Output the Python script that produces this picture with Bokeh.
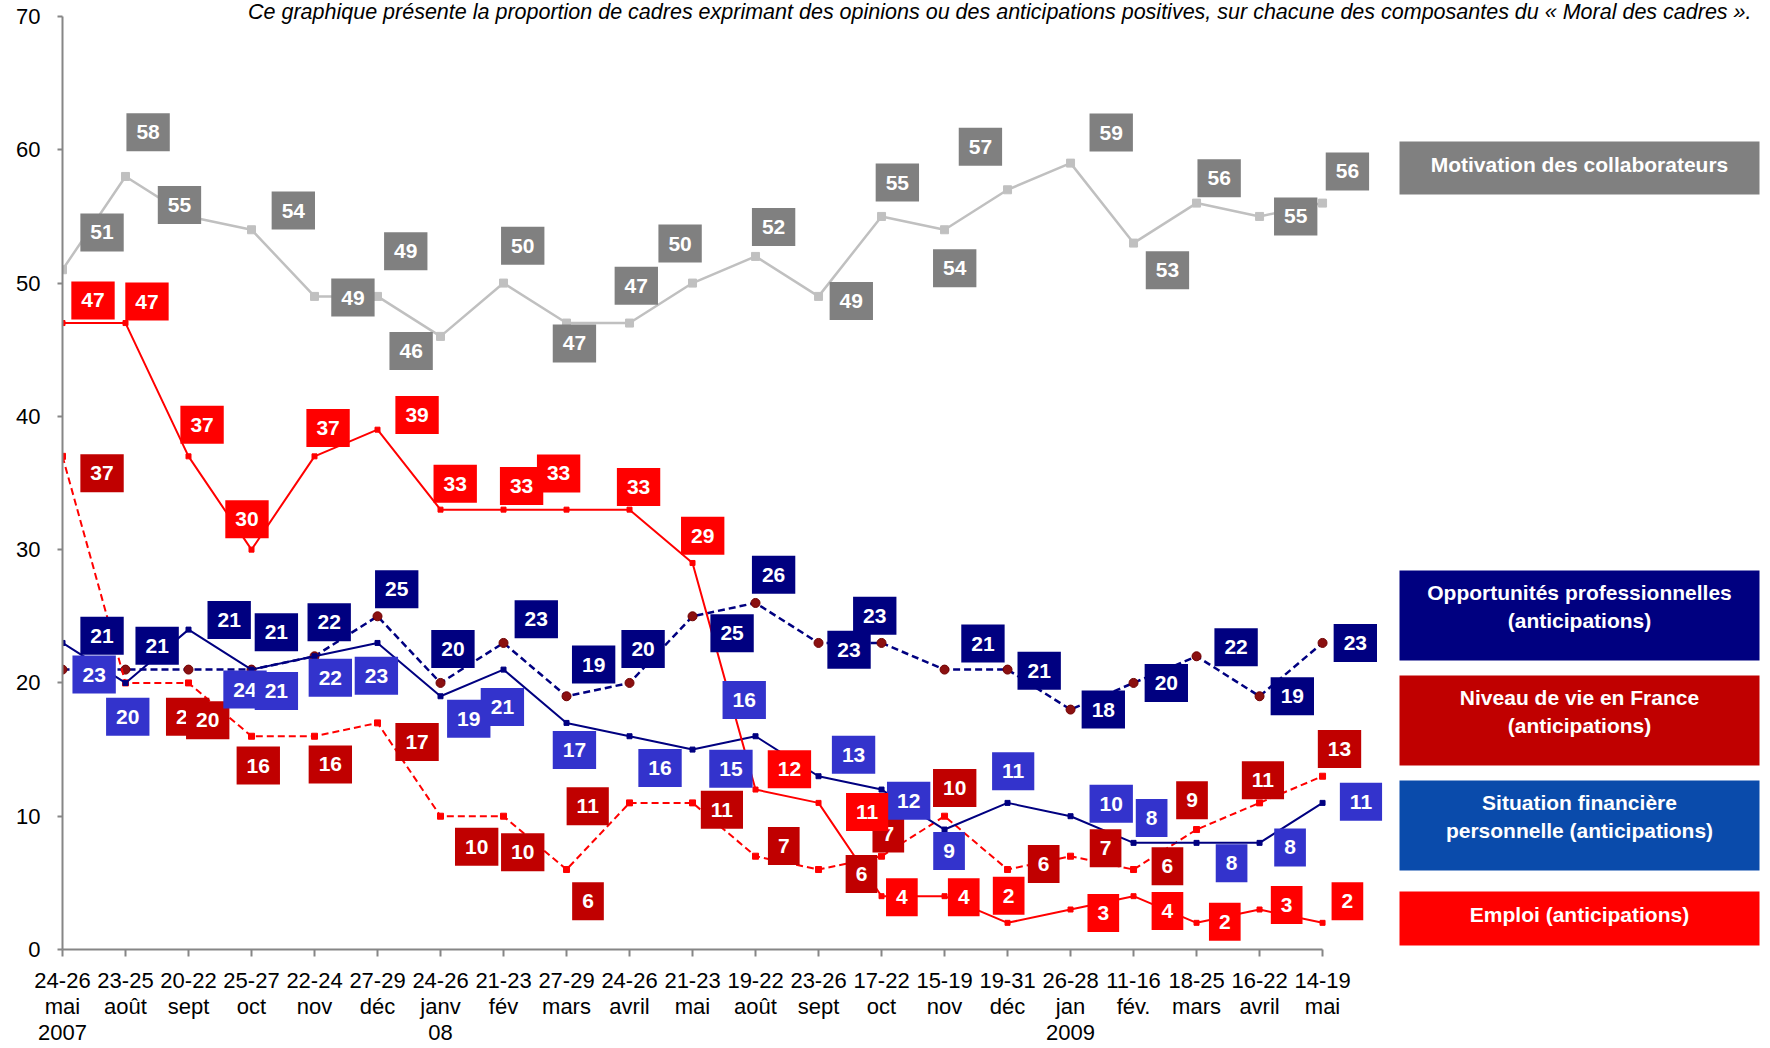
from bokeh.plotting import figure
from bokeh.models import ColumnDataSource, FixedTicker, BoxAnnotation, Label, Range1d
from bokeh.embed import file_html
from bokeh.resources import INLINE
from bokeh.core.properties import value

# ---------------- data ----------------
categories = ["24-26\nmai\n2007", "23-25\naoût", "20-22\nsept", "25-27\noct", "22-24\nnov",
              "27-29\ndéc", "24-26\njanv\n08", "21-23\nfév", "27-29\nmars", "24-26\navril",
              "21-23\nmai", "19-22\naoût", "23-26\nsept", "17-22\noct", "15-19\nnov",
              "19-31\ndéc", "26-28\njan\n2009", "11-16\nfév.", "18-25\nmars", "16-22\navril",
              "14-19\nmai"]
motivation = [51, 58, 55, 54, 49, 49, 46, 50, 47, 47, 50, 52, 49, 55, 54, 57, 59, 53, 56, 55, 56]
opportunites = [21, 21, 21, 21, 22, 25, 20, 23, 19, 20, 25, 26, 23, 23, 21, 21, 18, 20, 22, 19, 23]
niveau_vie = [37, 20, 20, 16, 16, 17, 10, 10, 6, 11, 11, 7, 6, 7, 10, 6, 7, 6, 9, 11, 13]
situation = [23, 20, 24, 21, 22, 23, 19, 21, 17, 16, 15, 16, 13, 12, 9, 11, 10, 8, 8, 8, 11]
emploi = [47, 47, 37, 30, 37, 39, 33, 33, 33, 33, 29, 12, 11, 4, 4, 2, 3, 4, 2, 3, 2]
y_ticks = [0, 10, 20, 30, 40, 50, 60, 70]

# ---------------- label placement (screen px offsets, style only) ----------------
S = 1.13
mot_dx = [35, 20, -8, 37, 34, 25, -26, 17, 7, 6, -11, 16, 29, 14, 9, -24, 36, 30, 20, 32, 22]
mot_dy = [-33, -39, -10, -17, 1, -40, 13, -33, 18, -33, -35, -26, 4, -30, 34, -38, -27, 24, -22, 0, -28]
emp_dx = [27, 19, 12, -4, 12, 35, 13, 16, -7, 8, 9, 30, 43, 18, 17, 1, 29, 30, 25, 24, 22]
emp_dy = [-20, -19, -28, -27, -25, -13, -23, -21, -32, -20, -24, -18, 8, 1, 1, -24, 3, 13, -1, -4, -19]
niv_dx = [35, 55, 17, 6, 14, 35, 32, 17, 19, -37, 26, 25, 38, 6, 9, 32, 31, 30, -4, 3, 15]
niv_dy = [15, 30, 33, 26, 25, 17, 27, 32, 28, 3, 6, -9, 4, -20, -25, -5, -7, -3, -26, -20, -24]
opp_dx = [35, 28, 36, 22, 13, 17, 11, 29, 24, 12, 35, 16, 27, -6, 34, 28, 29, 29, 35, 29, 29]
opp_dy = [-30, -21, -44, -33, -30, -24, -30, -21, -28, -30, 15, -25, 6, -24, -23, 1, 0, 0, -8, 0, 0]
sit_dx = [28, 2, 50, 22, 14, -1, 25, -1, 7, 27, 34, -10, 31, 24, 4, 5, 36, 16, 31, 27, 34]
sit_dy = [28, 30, 53, 19, 19, 29, 20, 33, 24, 28, 17, -32, -19, 10, 19, -28, -11, -22, 18, 4, -1]

FONT = "Liberation Sans"
xs = list(range(len(categories)))

p = figure(width=1770, height=1048, output_backend="svg", toolbar_location=None, title=None,
           x_range=Range1d(0, 27.11), y_range=Range1d(0, 71.2),
           min_border_left=62, min_border_right=0, min_border_top=0, min_border_bottom=10)
p.outline_line_color = None
p.xgrid.visible = False
p.ygrid.visible = False
p.background_fill_color = "white"

# axes
p.yaxis.ticker = FixedTicker(ticks=y_ticks)
p.yaxis.bounds = (0, 70)
p.yaxis.minor_tick_line_color = None
p.yaxis.major_tick_out = 5
p.yaxis.major_tick_in = 0
p.yaxis.major_label_standoff = 17
p.yaxis.major_label_text_font = FONT
p.yaxis.major_label_text_font_size = "22px"
p.yaxis.major_label_text_color = "black"
p.yaxis.axis_line_color = "#868686"
p.yaxis.axis_line_width = 2
p.yaxis.major_tick_line_color = "#868686"
p.yaxis.major_tick_line_width = 2

p.xaxis.ticker = FixedTicker(ticks=xs)
p.xaxis.bounds = (0, len(categories) - 1)
p.xaxis.major_label_overrides = {i: c for i, c in enumerate(categories)}
p.xaxis.minor_tick_line_color = None
p.xaxis.major_tick_out = 7
p.xaxis.major_tick_in = 0
p.xaxis.major_label_standoff = 11
p.xaxis.major_label_text_font = FONT
p.xaxis.major_label_text_font_size = "22px"
p.xaxis.major_label_text_line_height = 1.05
p.xaxis.major_label_text_color = "black"
p.xaxis.axis_line_color = "#868686"
p.xaxis.axis_line_width = 2
p.xaxis.major_tick_line_color = "#868686"
p.xaxis.major_tick_line_width = 2

# lines
p.line(xs, motivation, line_color="#C0C0C0", line_width=2.5)
p.scatter(xs, motivation, marker="square", size=8, fill_color="#C0C0C0", line_color="#C0C0C0")

p.line(xs, opportunites, line_color="#000080", line_width=2.5, line_dash="7 4")
p.scatter(xs, opportunites, marker="circle", size=9, fill_color="#8B1010", line_color="#700000")

p.line(xs, niveau_vie, line_color="#FF0000", line_width=2, line_dash="7 4")
p.scatter(xs, niveau_vie, marker="square", size=6, fill_color="#FF0000", line_color="#FF0000")

p.line(xs, situation, line_color="#000080", line_width=2)
p.scatter(xs, situation, marker="square", size=5, fill_color="#000080", line_color="#000080")

p.line(xs, emploi, line_color="#FF0000", line_width=2)
p.scatter(xs, emploi, marker="square", size=5, fill_color="#FF0000", line_color="#FF0000")


def add_labels(vals, dx, dy, color):
    src = ColumnDataSource(dict(x=xs, y=vals, t=[str(v) for v in vals],
                                dx=[d * S for d in dx], dy=[d * S for d in dy]))
    p.text(x="x", y="y", text="t", source=src, x_offset="dx", y_offset="dy",
           text_font=value(FONT), text_font_size="21px", text_font_style="bold",
           text_color="white", text_align="center", text_baseline="middle",
           background_fill_color=color, padding=(10, 12))


add_labels(motivation, mot_dx, mot_dy, "#808080")
add_labels(opportunites, opp_dx, opp_dy, "#000080")
add_labels(niveau_vie, niv_dx, niv_dy, "#C00000")
add_labels(situation, sit_dx, sit_dy, "#3333CC")
add_labels(emploi, emp_dx, emp_dy, "#FF0000")

# legend boxes (canvas px)
legend = [
    ("Motivation des collaborateurs", "#808080", 141, 194, 164),
    ("Opportunités professionnelles\n(anticipations)", "#000080", 570, 660, 606),
    ("Niveau de vie en France\n(anticipations)", "#C00000", 675, 765, 711),
    ("Situation financière\npersonnelle (anticipations)", "#0A4BAB", 780, 870, 816),
    ("Emploi (anticipations)", "#FF0000", 891, 945, 914),
]
for txt, col, top, bot, cy in legend:
    p.add_layout(BoxAnnotation(left=1399, right=1759, top=top, bottom=bot,
                               left_units="canvas", right_units="canvas",
                               top_units="canvas", bottom_units="canvas",
                               fill_color=col, fill_alpha=1, line_color=None))
    p.add_layout(Label(x=1579, y=cy, x_units="canvas", y_units="canvas", text=txt,
                       text_font=FONT, text_font_size="21px", text_font_style="bold",
                       text_color="white", text_align="center", text_baseline="middle",
                       text_line_height=1.2))

p.add_layout(Label(x=1751, y=-1, x_units="canvas", y_units="canvas",
                   text="Ce graphique présente la proportion de cadres exprimant des opinions ou des "
                        "anticipations positives, sur chacune des composantes du « Moral des cadres ».",
                   text_font=FONT, text_font_size="21.5px", text_font_style="italic",
                   text_color="black", text_align="right", text_baseline="top"))

open("out.html", "w").write(file_html(p, INLINE))
